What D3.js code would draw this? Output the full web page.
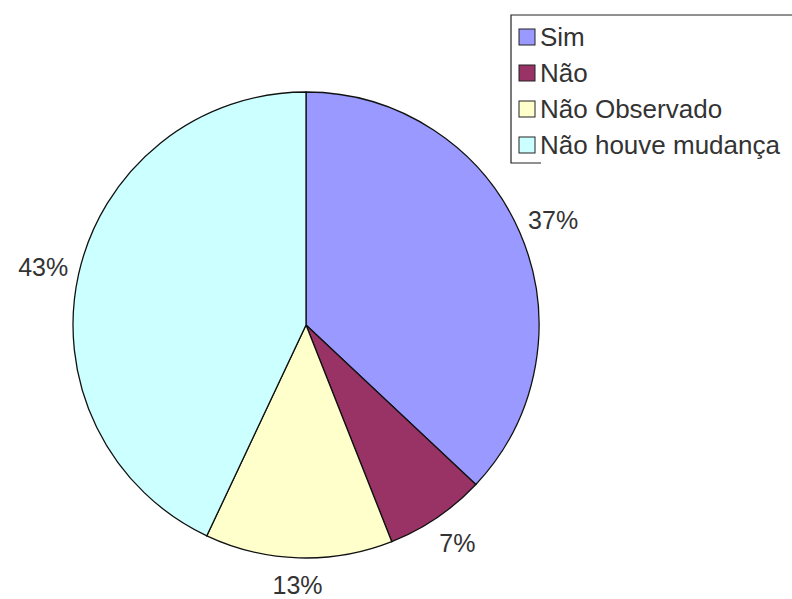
<!DOCTYPE html>
<html>
<head>
<meta charset="utf-8">
<script src="https://cdn.jsdelivr.net/npm/d3@7"></script>
<style>
  body { margin: 0; background: #fff; }
  text { font-family: "Liberation Sans", Arial, sans-serif; fill: #333; }
</style>
</head>
<body>
<div id="chart"></div>
<script>
let categories = ["Sim", "Não", "Não Observado", "Não houve mudança"];
let values = [37, 7, 13, 43];
let colors = ["#9999FF", "#993366", "#FFFFCC", "#CCFFFF"];

let width = 792;
let height = 599;
let cx = 306, cy = 325, radius = 233;

let svg = d3.select("#chart")
    .append("svg")
    .attr("width", width)
    .attr("height", height);

let pie = d3.pie().sort(null).value(d => d.value);
let slices = pie(categories.map((c, i) => ({ name: c, value: values[i] })));

let arc = d3.arc().innerRadius(0).outerRadius(radius);
let labelArc = d3.arc().innerRadius(264).outerRadius(264);

let g = svg.append("g").attr("transform", `translate(${cx},${cy})`);

g.selectAll("path")
    .data(slices)
    .enter()
    .append("path")
    .attr("d", arc)
    .attr("fill", (d, i) => colors[i])
    .attr("stroke", "#111")
    .attr("stroke-width", 1.3);

g.selectAll("text.pct")
    .data(slices)
    .enter()
    .append("text")
    .attr("class", "pct")
    .attr("transform", d => {
        let [x, y] = labelArc.centroid(d);
        return `translate(${x * 1.02},${Math.min(y, 260)})`;
    })
    .attr("text-anchor", "middle")
    .attr("dy", "0.35em")
    .style("font-size", "25px")
    .text(d => d.data.value + "%");

// legend
let legend = svg.append("g").attr("transform", "translate(511,15)");
legend.append("path")
    .attr("d", "M 290 0 H 0 V 148 H 30")
    .attr("fill", "none")
    .attr("stroke", "#222")
    .attr("stroke-width", 1.2);

let rows = legend.selectAll("g.item")
    .data(categories)
    .enter()
    .append("g")
    .attr("class", "item")
    .attr("transform", (d, i) => `translate(0,${22 + i * 36})`);

rows.append("rect")
    .attr("x", 8)
    .attr("y", -8)
    .attr("width", 16)
    .attr("height", 16)
    .attr("fill", (d, i) => colors[i])
    .attr("stroke", "#222")
    .attr("stroke-width", 1);

rows.append("text")
    .attr("x", 29)
    .attr("dy", "0.35em")
    .style("font-size", "26px")
    .text(d => d);
</script>
</body>
</html>
